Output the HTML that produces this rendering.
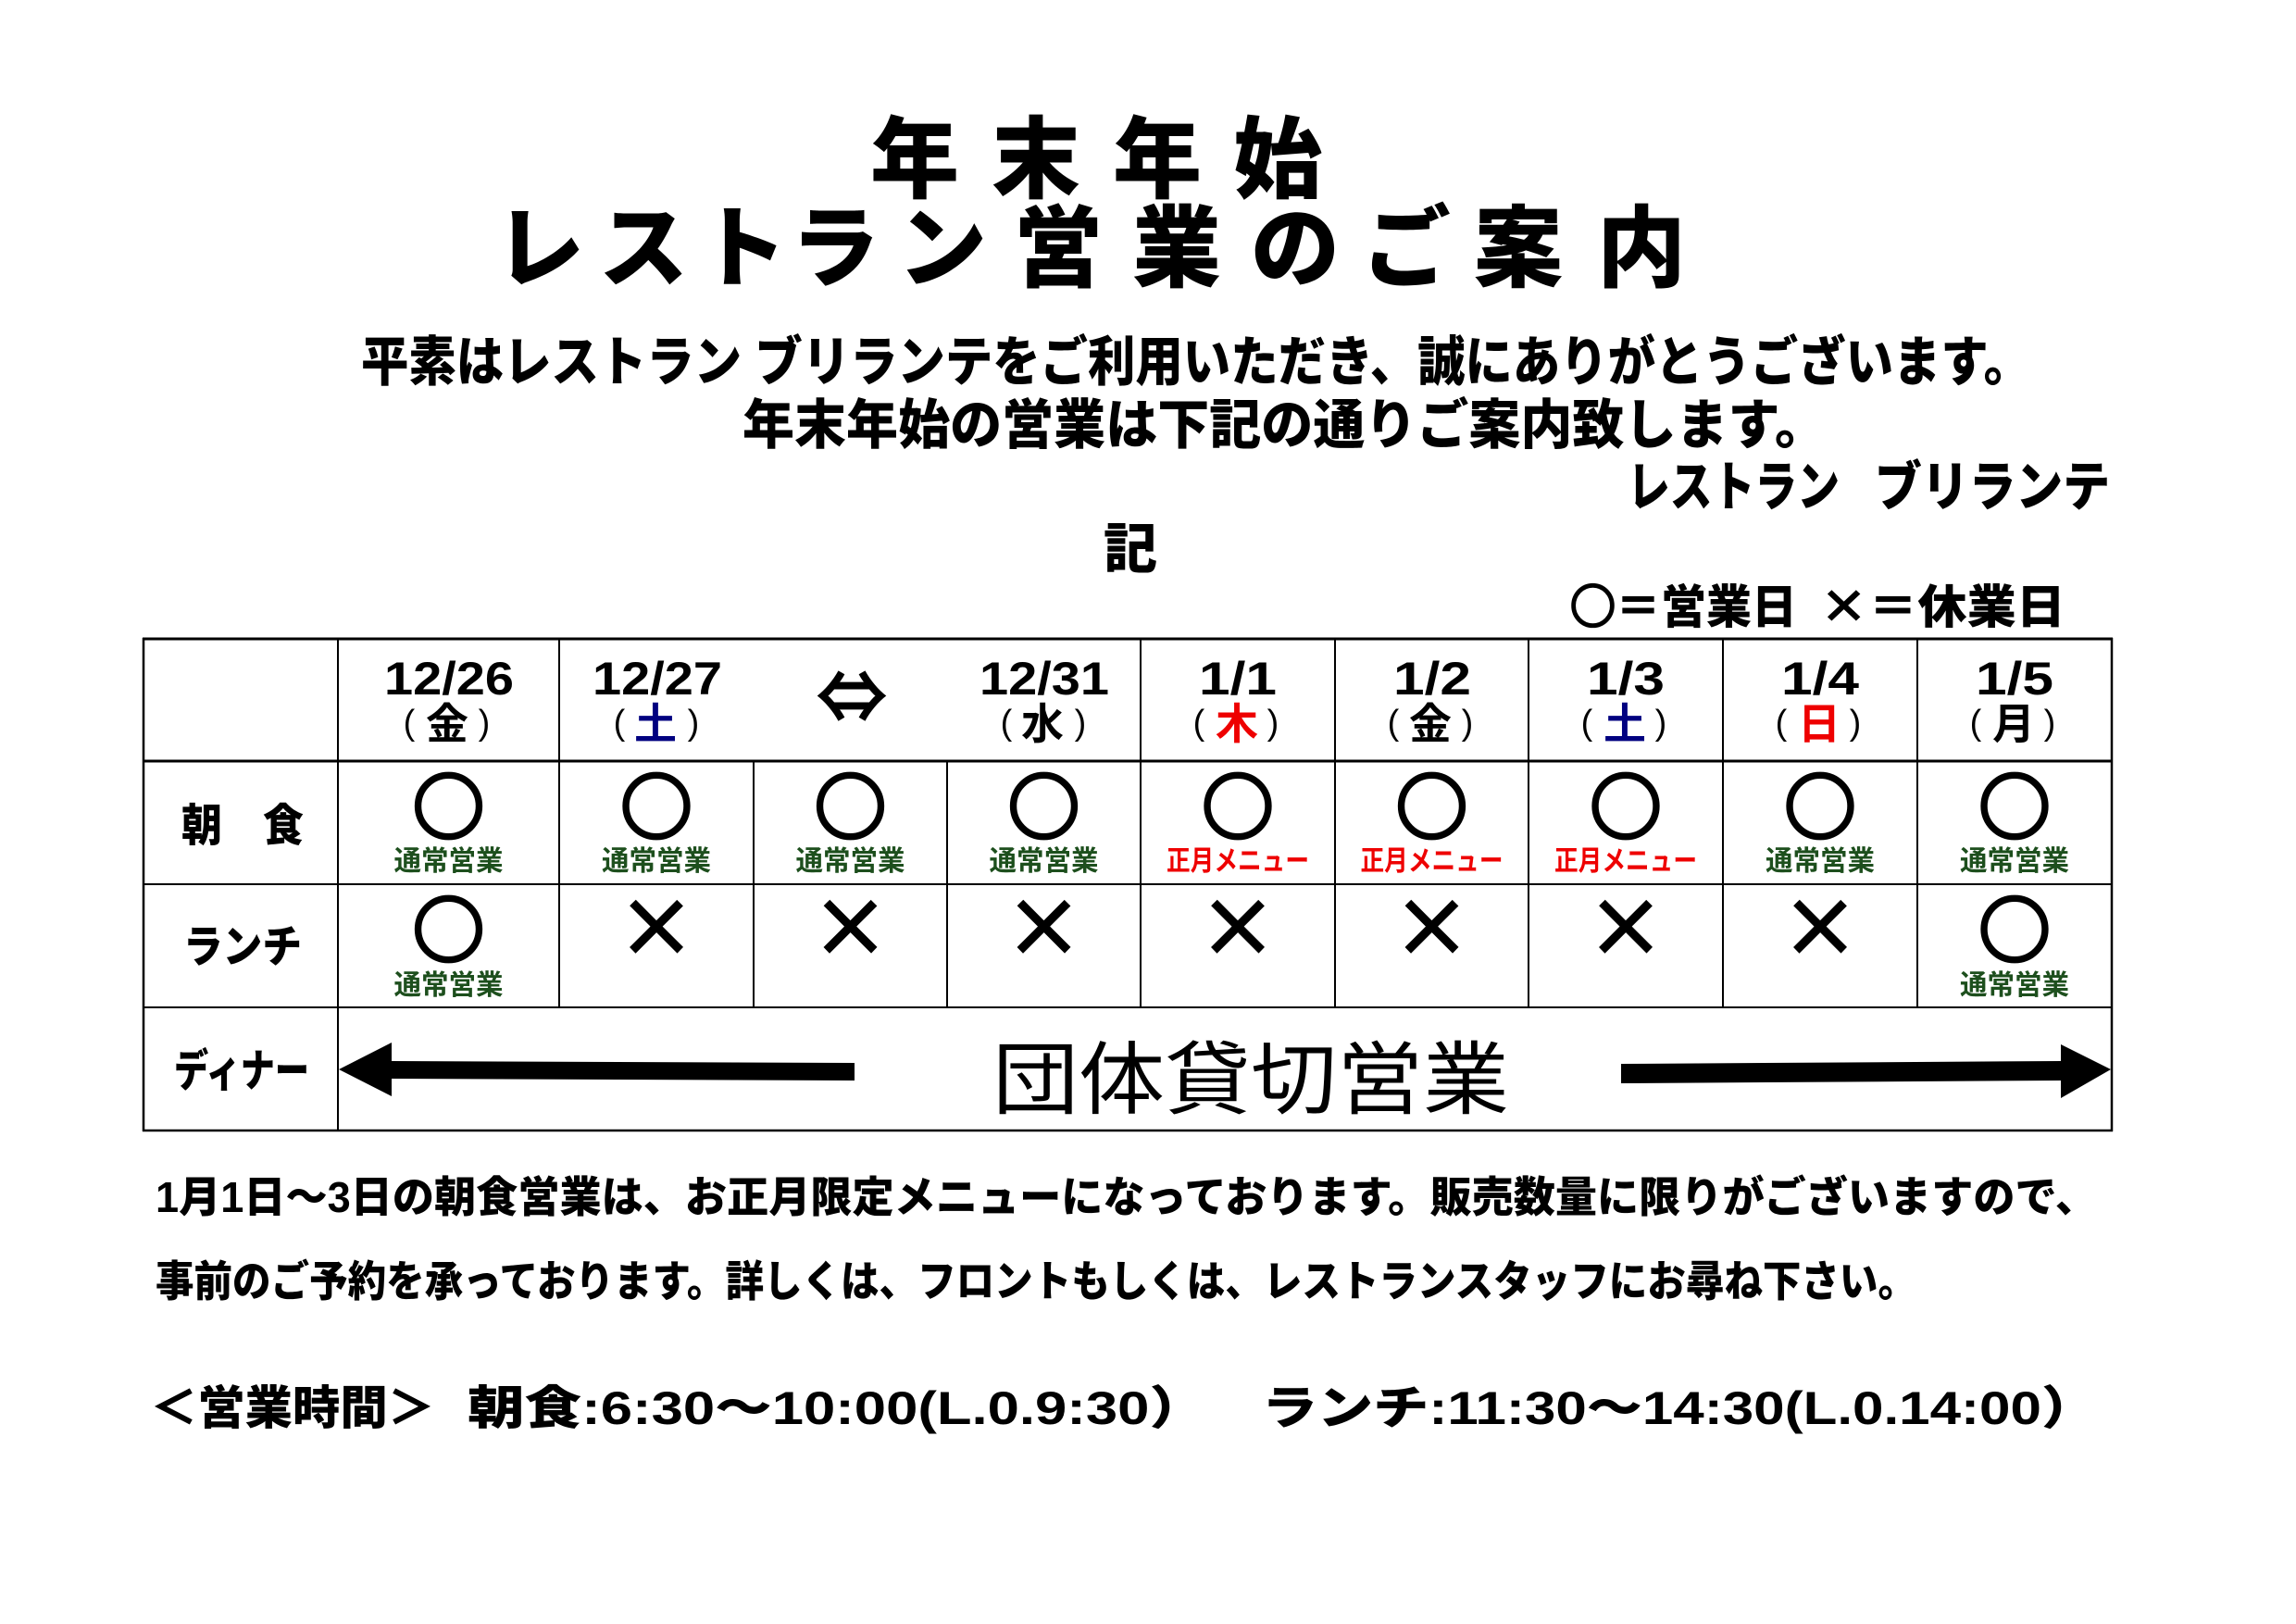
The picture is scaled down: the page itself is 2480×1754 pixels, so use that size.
<!DOCTYPE html>
<html lang="ja">
<head>
<meta charset="utf-8">
<style>
  html,body{margin:0;padding:0;background:#fff;}
  body{width:2480px;height:1754px;overflow:hidden;}
  svg{display:block;}
  .b{font-family:"Liberation Sans","Noto Sans CJK JP",sans-serif;font-weight:900;}
  .n{font-family:"Noto Sans CJK JP","Liberation Sans",sans-serif;font-weight:900;}
  .nb{font-family:"Noto Sans CJK JP","Liberation Sans",sans-serif;font-weight:700;}
  .nr{font-family:"Liberation Sans","Noto Sans CJK JP",sans-serif;font-weight:400;}
  .d{font-family:"Liberation Sans","Noto Sans CJK JP",sans-serif;font-weight:700;}
  .p{font-family:"Liberation Sans","Noto Sans CJK JP",sans-serif;font-weight:400;}
  .sym{font-family:"Noto Sans CJK JP","DejaVu Sans",sans-serif;font-weight:700;}
  .x{font-family:"Liberation Sans","Noto Sans CJK JP",sans-serif;font-weight:400;}
  .g{fill:#1d4f1d;}
  .red{fill:#ee0000;}
  .navy{fill:#000080;}
</style>
</head>
<body>
<svg width="2480" height="1754" viewBox="0 0 2480 1754" xmlns="http://www.w3.org/2000/svg">
  <rect x="0" y="0" width="2480" height="1754" fill="#fff"/>

  <!-- Title -->
  <text class="b" x="940 1071 1202 1332" y="206" font-size="96">年末年始</text>
  <text class="b" x="535 647 754 854 970 1095 1223 1351 1471 1592 1725" y="302" font-size="96">レストラン営業のご案内</text>

  <!-- Paragraph -->
  <text class="b" x="390" y="411" font-size="58" textLength="1804" lengthAdjust="spacingAndGlyphs">平素はレストラン ブリランテをご利用いただき、誠にありがとうございます。</text>
  <text class="b" x="802" y="479" font-size="58" textLength="1171" lengthAdjust="spacingAndGlyphs">年末年始の営業は下記の通りご案内致します。</text>
  <text class="b" x="1758" y="546" font-size="58" textLength="229" lengthAdjust="spacingAndGlyphs">レストラン</text>
  <text class="b" x="2025" y="546" font-size="58" textLength="254" lengthAdjust="spacingAndGlyphs">ブリランテ</text>
  <text class="b" x="1192" y="613" font-size="58">記</text>

  <!-- Legend -->
  <text class="n" x="1696" y="673" font-size="50" textLength="245" lengthAdjust="spacingAndGlyphs"><tspan stroke="#000" stroke-width="2.5">○</tspan>＝営業日</text>
  <text class="n" x="1965" y="673" font-size="50" textLength="266" lengthAdjust="spacingAndGlyphs">×＝休業日</text>

  <!-- Table grid -->
  <g stroke="#000" fill="none">
    <line x1="154" y1="690" x2="2282" y2="690" stroke-width="3"/>
    <line x1="154" y1="822" x2="2282" y2="822" stroke-width="3"/>
    <line x1="154" y1="955" x2="2282" y2="955" stroke-width="2"/>
    <line x1="154" y1="1088" x2="2282" y2="1088" stroke-width="2"/>
    <line x1="154" y1="1221" x2="2282" y2="1221" stroke-width="2.5"/>

    <line x1="155" y1="689" x2="155" y2="1222" stroke-width="2.5"/>
    <line x1="365" y1="689" x2="365" y2="1222" stroke-width="2"/>
    <line x1="604" y1="689" x2="604" y2="1088" stroke-width="2"/>
    <line x1="814" y1="822" x2="814" y2="1088" stroke-width="2"/>
    <line x1="1023" y1="822" x2="1023" y2="1088" stroke-width="2"/>
    <line x1="1232" y1="689" x2="1232" y2="1088" stroke-width="2"/>
    <line x1="1442" y1="689" x2="1442" y2="1088" stroke-width="2"/>
    <line x1="1651" y1="689" x2="1651" y2="1088" stroke-width="2"/>
    <line x1="1861" y1="689" x2="1861" y2="1088" stroke-width="2"/>
    <line x1="2071" y1="689" x2="2071" y2="1088" stroke-width="2"/>
    <line x1="2281" y1="689" x2="2281" y2="1222" stroke-width="2.5"/>
  </g>

  <!-- Header dates -->
  <g font-size="50">
    <text class="d" x="415" y="750" textLength="140" lengthAdjust="spacingAndGlyphs">12/26</text>
    <text class="d" x="640" y="750" textLength="140" lengthAdjust="spacingAndGlyphs">12/27</text>
    <text class="d" x="1058" y="750" textLength="140" lengthAdjust="spacingAndGlyphs">12/31</text>
    <text class="d" x="1295" y="750" textLength="84" lengthAdjust="spacingAndGlyphs">1/1</text>
    <text class="d" x="1505" y="750" textLength="84" lengthAdjust="spacingAndGlyphs">1/2</text>
    <text class="d" x="1714" y="750" textLength="84" lengthAdjust="spacingAndGlyphs">1/3</text>
    <text class="d" x="1924" y="750" textLength="84" lengthAdjust="spacingAndGlyphs">1/4</text>
    <text class="d" x="2134" y="750" textLength="84" lengthAdjust="spacingAndGlyphs">1/5</text>
  </g>

  <!-- Day of week -->
  <g font-size="38" text-anchor="middle">
    <text class="p" x="442" y="793">(</text><text class="p" x="523" y="793">)</text>
    <text class="p" x="669" y="793">(</text><text class="p" x="749" y="793">)</text>
    <text class="p" x="1087" y="793">(</text><text class="p" x="1167" y="793">)</text>
    <text class="p" x="1295" y="793">(</text><text class="p" x="1375" y="793">)</text>
    <text class="p" x="1505" y="793">(</text><text class="p" x="1585" y="793">)</text>
    <text class="p" x="1714" y="793">(</text><text class="p" x="1794" y="793">)</text>
    <text class="p" x="1924" y="793">(</text><text class="p" x="2004" y="793">)</text>
    <text class="p" x="2134" y="793">(</text><text class="p" x="2214" y="793">)</text>
  </g>
  <g font-size="46" text-anchor="middle">
    <text class="nb" x="483" y="798">金</text>
    <text class="nb navy" x="708" y="798">土</text>
    <text class="nb" x="1126" y="798">水</text>
    <text class="nb red" x="1336" y="798">木</text>
    <text class="nb" x="1545" y="798">金</text>
    <text class="nb navy" x="1755" y="798">土</text>
    <text class="nb red" x="1965" y="798">日</text>
    <text class="nb" x="2175" y="798">月</text>
  </g>
  <text class="sym" x="920" y="781" font-size="78" text-anchor="middle">⇔</text>

  <!-- Row labels -->
  <text class="b" x="196" y="908" font-size="48" textLength="132" lengthAdjust="spacingAndGlyphs">朝　食</text>
  <text class="b" x="198" y="1039" font-size="48" textLength="128" lengthAdjust="spacingAndGlyphs">ランチ</text>
  <text class="b" x="188" y="1173" font-size="48" textLength="146" lengthAdjust="spacingAndGlyphs">ディナー</text>

  <!-- Circles -->
  <g class="sym" font-size="77" text-anchor="middle" stroke="#000" stroke-width="4">
    <text x="484.5" y="900">○</text>
    <text x="709" y="900">○</text>
    <text x="918.5" y="900">○</text>
    <text x="1127.5" y="900">○</text>
    <text x="1337" y="900">○</text>
    <text x="1546.5" y="900">○</text>
    <text x="1756" y="900">○</text>
    <text x="1966" y="900">○</text>
    <text x="2176" y="900">○</text>
    <text x="484.5" y="1033">○</text>
    <text x="2176" y="1033">○</text>
  </g>

  <!-- Labels -->
  <g font-size="30">
    <text class="nb g" x="425.5" y="940" textLength="118" lengthAdjust="spacingAndGlyphs">通常営業</text>
    <text class="nb g" x="650" y="940" textLength="118" lengthAdjust="spacingAndGlyphs">通常営業</text>
    <text class="nb g" x="859.5" y="940" textLength="118" lengthAdjust="spacingAndGlyphs">通常営業</text>
    <text class="nb g" x="1068.5" y="940" textLength="118" lengthAdjust="spacingAndGlyphs">通常営業</text>
    <text class="nb red" x="1260" y="940" textLength="154" lengthAdjust="spacingAndGlyphs">正月メニュー</text>
    <text class="nb red" x="1469.5" y="940" textLength="154" lengthAdjust="spacingAndGlyphs">正月メニュー</text>
    <text class="nb red" x="1679" y="940" textLength="154" lengthAdjust="spacingAndGlyphs">正月メニュー</text>
    <text class="nb g" x="1907" y="940" textLength="118" lengthAdjust="spacingAndGlyphs">通常営業</text>
    <text class="nb g" x="2117" y="940" textLength="118" lengthAdjust="spacingAndGlyphs">通常営業</text>
    <text class="nb g" x="425.5" y="1074" textLength="118" lengthAdjust="spacingAndGlyphs">通常営業</text>
    <text class="nb g" x="2117" y="1074" textLength="118" lengthAdjust="spacingAndGlyphs">通常営業</text>
  </g>

  <!-- Lunch crosses -->
  <g class="x" font-size="130" text-anchor="middle">
    <text x="709" y="1044">×</text>
    <text x="918.5" y="1044">×</text>
    <text x="1127.5" y="1044">×</text>
    <text x="1337" y="1044">×</text>
    <text x="1546.5" y="1044">×</text>
    <text x="1756" y="1044">×</text>
    <text x="1966" y="1044">×</text>
  </g>

  <!-- Dinner arrows -->
  <polygon points="366,1155 423,1126 423,1146 923,1148 923,1167 423,1165 423,1184" fill="#000"/>
  <polygon points="1751,1149 2226,1146 2226,1128 2280,1155 2226,1186 2226,1167 1751,1170" fill="#000"/>
  <text class="nr" x="1072" y="1196" font-size="86" textLength="558" lengthAdjust="spacingAndGlyphs">団体貸切営業</text>

  <!-- Bottom text -->
  <text class="b" x="168" y="1309" font-size="46" textLength="2097" lengthAdjust="spacingAndGlyphs">1月1日～3日の朝食営業は、お正月限定メニューになっております。販売数量に限りがございますので、</text>
  <text class="b" x="168" y="1400" font-size="46" textLength="1902" lengthAdjust="spacingAndGlyphs">事前のご予約を承っております。詳しくは、フロントもしくは、レストランスタッフにお尋ね下さい。</text>
  <text class="b" x="162" y="1538" font-size="50" textLength="308" lengthAdjust="spacingAndGlyphs">＜営業時間＞</text>
  <text class="b" x="505" y="1538" font-size="50" textLength="798" lengthAdjust="spacingAndGlyphs">朝食:6:30～10:00(L.0.9:30）</text>
  <text class="b" x="1363" y="1538" font-size="50" textLength="902" lengthAdjust="spacingAndGlyphs">ランチ:11:30～14:30(L.0.14:00）</text>
</svg>
</body>
</html>
